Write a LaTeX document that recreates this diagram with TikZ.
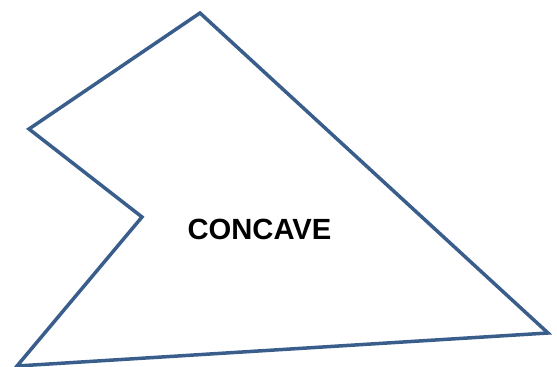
\documentclass[tikz,border=0pt]{standalone}
\usepackage{fontspec}
\setmainfont{Liberation Sans}
\usepackage{tikz}
\usetikzlibrary{positioning}
\definecolor{edgeblue}{HTML}{3A5E8C}

\begin{document}
\begin{tikzpicture}[
  x=0.5pt, y=-0.5pt,
  outline/.style={draw=edgeblue, line width=1.75pt, line join=miter},
  label/.style={font=\fontsize{14.6}{17}\selectfont\bfseries, text=black}
]
  \useasboundingbox (0,0) rectangle (557,367);
  \coordinate (top) at (200,13);
  \coordinate (left) at (29,129);
  \coordinate (notch) at (142,217);
  \coordinate (low) at (17,366);
  \coordinate (right) at (548,333);

  \draw[outline] (top) -- (left) -- (notch) -- (low) -- (right) -- cycle;
  \node[label] (name) at (259.5,229.5) {CONCAVE};
\end{tikzpicture}
\end{document}
